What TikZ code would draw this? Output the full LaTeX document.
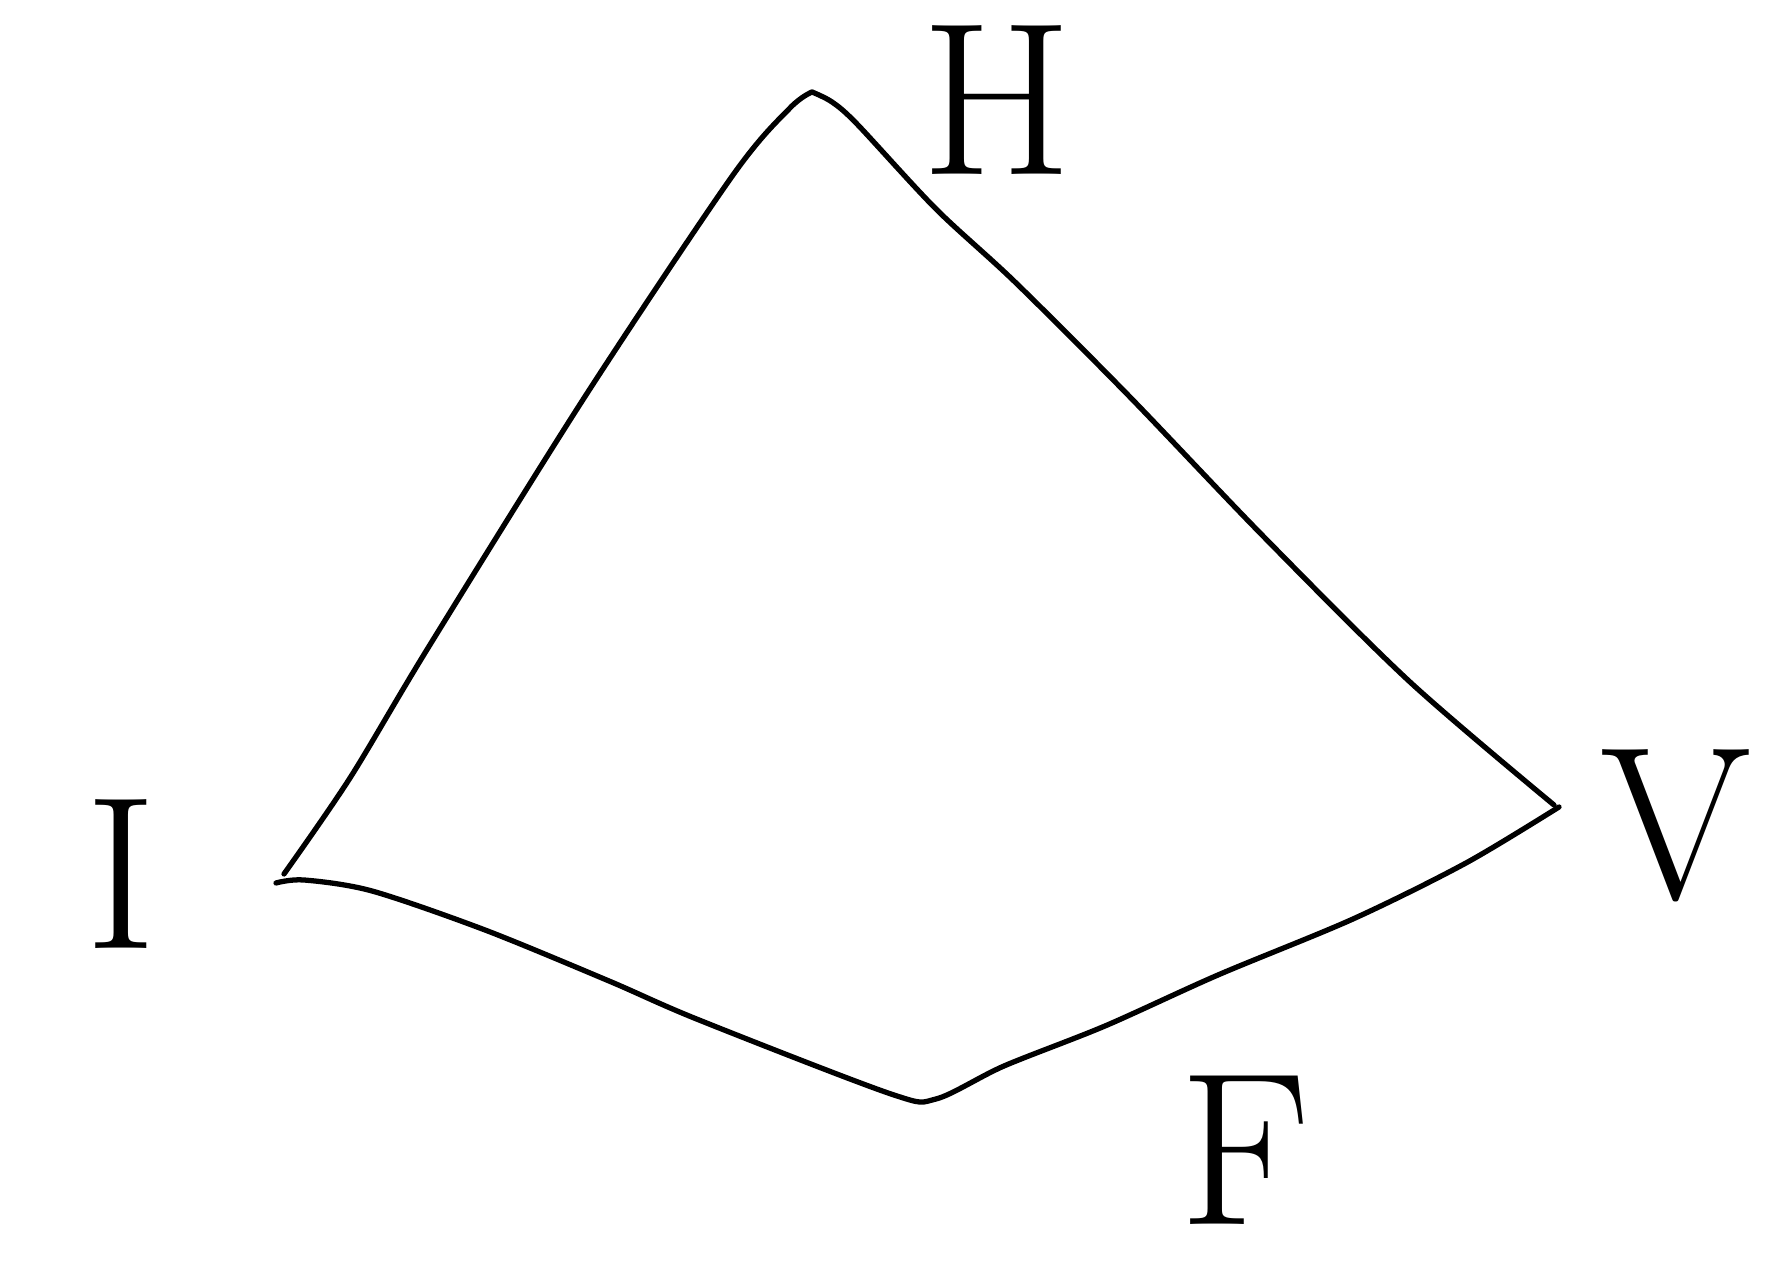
\documentclass[tikz,border=0pt]{standalone}
\usepackage{fontspec}
\usetikzlibrary{positioning}
\definecolor{Ink}{HTML}{000000}
\tikzset{sketch/.style={draw=Ink,line width=1.5pt,line cap=round,line join=round},
  side/.style={sketch,smooth,tension=0.5},
  letter/.style={text=Ink,inner sep=6pt,font=\fontsize{62}{62}\selectfont}}

\begin{document}
\begin{tikzpicture}[x=0.01cm,y=-0.01cm]
    \useasboundingbox (0,0) rectangle (1768,1268);
    \clip (0,0) rectangle (1768,1268);
    % corners of the sketch
    \coordinate (hv) at (812,92);
    \coordinate (iv) at (284,874);
    \coordinate (vv) at (1554,805);
    \coordinate (fv) at (936,1099);
    % labels
    \node[letter] (h) at (997,100) {H};
    \node[letter] (i) at (121,874) {I};
    \node[letter] (v) at (1676,826) {V};
    \node[letter] (f) at (1245,1150) {F};
    % sides
    \draw[side] plot coordinates {(iv) (350,778) (428,648) (586,395)
      (733,175) (790,108) (hv)};
    \draw[side] plot coordinates {(hv) (832,102) (857,124) (936,209)
      (1015,282) (1128,395) (1263,536) (1410,682) (vv)};
    \draw[side] plot coordinates {(276,883) (304,880) (372,891) (485,930)
      (609,981) (699,1020) (891,1094) (fv) (1004,1066) (1105,1026)
      (1218,975) (1353,919) (1466,863) (1559,807)};
\end{tikzpicture}
\end{document}
